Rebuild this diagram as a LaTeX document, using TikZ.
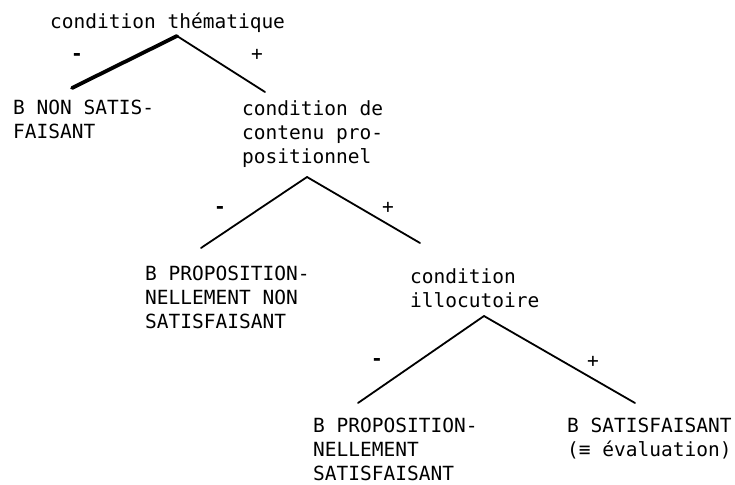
\documentclass[tikz,border=0pt]{standalone}
\usepackage{fontspec}
\setmonofont{DejaVu Sans Mono}
\newcommand{\lblfont}{\ttfamily\fontsize{19.5}{24}\selectfont}
\begin{document}
\begin{tikzpicture}[x=1pt,y=-1pt,
  lbl/.style={font=\lblfont, inner sep=0pt, anchor=north west, align=left},
  minussgn/.style={font=\lblfont\bfseries, inner sep=0pt},
  plussgn/.style={font=\lblfont, inner sep=0pt},
  branch/.style={line width=1.8pt, line cap=round},
  thickbranch/.style={line width=3.8pt, line cap=round}]
\useasboundingbox[fill=white] (0,0) rectangle (735,484);

% texts
\node[lbl] (top) at (50,12.5) {condition thématique};
\node[lbl] (bns) at (13,100) {B NON SATIS-\\FAISANT};
\node[lbl] (ccp) at (242,100) {condition de\\contenu pro-\\positionnel};
\node[lbl] (bpn) at (145,266) {B PROPOSITION-\\NELLEMENT NON\\SATISFAISANT};
\node[lbl] (cil) at (410,268) {condition\\illocutoire};
\node[lbl] (bps) at (313,418) {B PROPOSITION-\\NELLEMENT\\SATISFAISANT};
\node[lbl] (bsa) at (567,418) {B SATISFAISANT\\(≡ évaluation)};

% branch points
\coordinate (a1) at (177,36);
\coordinate (l1) at (72,88);
\coordinate (r1) at (265,92);
\coordinate (a2) at (307,177);
\coordinate (l2) at (201,248);
\coordinate (r2) at (420,243);
\coordinate (a3) at (484,316);
\coordinate (l3) at (358,403);
\coordinate (r3) at (635,403);

\draw[thickbranch] (a1) -- (l1);
\draw[branch] (a1) -- (r1);
\draw[branch] (a2) -- (l2);
\draw[branch] (a2) -- (r2);
\draw[branch] (a3) -- (l3);
\draw[branch] (a3) -- (r3);

% signs
\node[minussgn] (m1) at (77,57) {-};
\node[plussgn] (p1) at (257,55) {+};
\node[minussgn] (m2) at (220,210) {-};
\node[plussgn] (p2) at (388,208) {+};
\node[minussgn] (m3) at (377,362) {-};
\node[plussgn] (p3) at (593,362) {+};
\end{tikzpicture}
\end{document}
